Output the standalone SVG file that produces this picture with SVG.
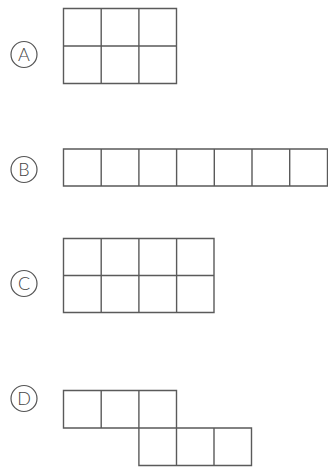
<svg xmlns="http://www.w3.org/2000/svg" width="328" height="468" viewBox="0 0 328 468">
<style>
.g{fill:none;stroke:#5a5a5a;stroke-width:1.4}
.c{fill:none;stroke:#555;stroke-width:1.2}
.t{font-family:Lato,"Open Sans","Liberation Sans",sans-serif;font-size:18px;font-weight:300;fill:#444;text-anchor:middle}
</style>
<rect width="328" height="468" fill="#fff"/>
<g id="A">
<circle class="c" cx="24" cy="54.5" r="13"/>
<text class="t" x="24" y="61">A</text>
<path class="g" d="M63.5 8.5H176.5V83.5H63.5Z M63.5 46H176.5 M101.2 8.5V83.5 M138.9 8.5V83.5"/>
</g>
<g id="B">
<circle class="c" cx="24" cy="169.5" r="13"/>
<text class="t" x="24" y="176">B</text>
<path class="g" d="M63.5 149H327.5V186H63.5Z M101.2 149V186 M138.9 149V186 M176.6 149V186 M214.3 149V186 M252 149V186 M289.7 149V186"/>
</g>
<g id="C">
<circle class="c" cx="24" cy="283.5" r="13"/>
<text class="t" x="24" y="290">C</text>
<path class="g" d="M63.5 238.5H214V312.5H63.5Z M63.5 275.5H214 M101.2 238.5V312.5 M138.9 238.5V312.5 M176.6 238.5V312.5"/>
</g>
<g id="D">
<circle class="c" cx="24" cy="398.5" r="13"/>
<text class="t" x="24" y="405">D</text>
<path class="g" d="M63.5 390.5H176.5V428H63.5Z M101.2 390.5V428 M138.9 390.5V465.5H251.5V428H176.5 M176.5 428V465.5 M214 428V465.5"/>
</g>
<g id="connectors"></g>
</svg>
